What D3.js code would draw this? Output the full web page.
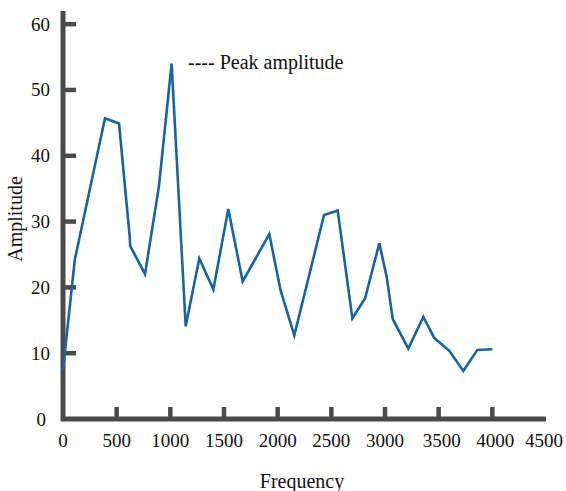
<!DOCTYPE html>
<html>
<head>
<meta charset="utf-8">
<script src="https://cdn.jsdelivr.net/npm/d3@7"></script>
<style>
  body { margin: 0; background: #fff; }
  text { font-family: "Liberation Serif", "Times New Roman", serif; fill: #111; }
</style>
</head>
<body>
<div id="chart"></div>
<script>
const width = 566;
const height = 491;

// values
const frequency = [0, 110, 391, 522, 622, 626, 764, 894, 1012, 1143, 1270, 1401, 1540, 1674,
    1922, 2028, 2155, 2432, 2559, 2696, 2814, 2947, 3016, 3072, 3217, 3357, 3460, 3597,
    3730, 3860, 4000];
const amplitude = [7.5, 24.2, 45.7, 44.9, 27.6, 26.3, 22.0, 35.4, 54.0, 14.1, 24.4, 19.7, 31.9, 20.9,
    28.1, 19.5, 12.7, 31.0, 31.7, 15.3, 18.3, 26.7, 21.6, 15.2, 10.7, 15.5, 12.3, 10.4,
    7.3, 10.5, 10.6];
const xTicks = [500, 1000, 1500, 2000, 2500, 3000, 3500, 4000];
const xLabels = [0, 500, 1000, 1500, 2000, 2500, 3000, 3500, 4000, 4500];
const yTicks = [10, 20, 30, 40, 50, 60];
const yLabels = [0, 10, 20, 30, 40, 50, 60];

const data = frequency.map((f, i) => ({ f: f, a: amplitude[i] }));

const axisColor = "#4a4a4a";

var svg = d3.select("#chart").append("svg")
    .attr("width", width).attr("height", height);

var x = d3.scaleLinear().domain([0, 4500]).range([63, 546]);
var y = d3.scaleLinear().domain([0, 62]).range([419, 11]);

// x axis line and ticks (ticks point up into the plot)
svg.append("line")
    .attr("x1", x(0) - 2).attr("x2", x(4500))
    .attr("y1", y(0)).attr("y2", y(0))
    .attr("stroke", axisColor).attr("stroke-width", 5);
svg.selectAll(".xtick").data(xTicks).enter().append("line")
    .attr("x1", d => x(d)).attr("x2", d => x(d))
    .attr("y1", y(0)).attr("y2", y(0) - 12)
    .attr("stroke", axisColor).attr("stroke-width", 4.5);
svg.selectAll(".xlab").data(xLabels).enter().append("text")
    .attr("x", d => x(d) + (d == 4500 ? -2 : d >= 3500 ? 3 : 0))
    .attr("y", 447)
    .attr("text-anchor", "middle")
    .style("font-size", "19px")
    .text(d => d);

// y axis line and ticks (ticks point right into the plot)
svg.append("line")
    .attr("x1", x(0)).attr("x2", x(0))
    .attr("y1", y(0) + 2).attr("y2", y(62))
    .attr("stroke", axisColor).attr("stroke-width", 5);
svg.selectAll(".ytick").data(yTicks).enter().append("line")
    .attr("x1", x(0)).attr("x2", x(0) + 13)
    .attr("y1", d => y(d)).attr("y2", d => y(d))
    .attr("stroke", axisColor).attr("stroke-width", 4.5);
svg.selectAll(".ylab").data(yLabels).enter().append("text")
    .attr("x", d => d == 0 ? 46 : 50)
    .attr("y", d => y(d) + 6.5)
    .attr("text-anchor", "end")
    .style("font-size", "19px")
    .text(d => d);

// axis titles
svg.append("text")
    .attr("x", 302).attr("y", 488)
    .attr("text-anchor", "middle")
    .style("font-size", "20px")
    .text("Frequency");
svg.append("text")
    .attr("transform", "translate(22,219) rotate(-90)")
    .attr("text-anchor", "middle")
    .style("font-size", "20px")
    .text("Amplitude");

// annotation
svg.append("text")
    .attr("x", 188).attr("y", 69)
    .style("font-size", "20px")
    .text("---- Peak amplitude");

// the line
var line = d3.line()
    .x(d => x(d.f))
    .y(d => y(d.a));
svg.append("path")
    .datum(data)
    .attr("fill", "none")
    .attr("stroke", "#1565a6")
    .attr("stroke-width", 2.6)
    .attr("stroke-linejoin", "miter")
    .attr("d", line);
</script>
</body>
</html>
